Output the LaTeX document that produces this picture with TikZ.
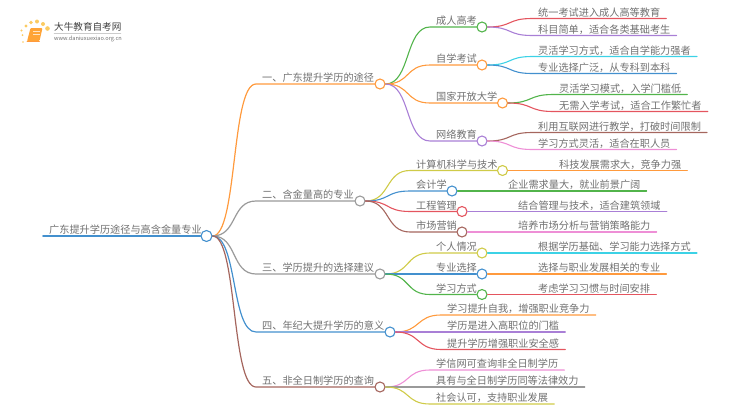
\documentclass[tikz,border=0pt]{standalone}
\usepackage{fontspec}
\setmainfont{Noto Sans CJK SC}
\definecolor{txt}{HTML}{707070}
\definecolor{corange}{HTML}{FF9A3D}
\definecolor{cgreen}{HTML}{52B44B}
\definecolor{cred}{HTML}{E4555F}
\definecolor{cpurple}{HTML}{A97FD6}
\definecolor{ccyan}{HTML}{3CD2E6}
\definecolor{cblue}{HTML}{4390CE}
\definecolor{cyellow}{HTML}{CFCB48}
\definecolor{cbrown}{HTML}{A5665E}
\definecolor{cpink}{HTML}{EE8FD6}
\definecolor{cgray}{HTML}{9A9A9A}
\definecolor{csun}{HTML}{FBCB62}
\begin{document}
\begin{tikzpicture}[x=1pt,y=-1pt,line cap=round,
  label node/.style={inner xsep=6pt,inner ysep=1.2pt,anchor=south west,text=txt,font=\fontsize{10.17pt}{11pt}\selectfont},
  main node/.style={circle,draw,fill=white,minimum size=10pt,inner sep=0pt,line width=1.1pt},
  link/.style={out=0,in=180,distance=25pt},
  leaf/.style={line width=1.1pt}]
\useasboundingbox (0,0) rectangle (750,410);
% logo
\begin{scope}
\foreach \dx/\dy/\r in {22.5/35/1,21.5/30.5/1.2,26/26/1.7,31/22.5/1.9,37/21.5/2,43/24/2,47.5/28.5/2.3,23/42/.8}
  \fill[csun] (\dx,\dy) circle (\r);
\fill[corange!90!yellow,rounded corners=1pt] (30.5,28) -- (42.5,28) -- (39.5,41) -- (27,41.5) -- cycle;
\fill[white,opacity=.7] (33,31) rectangle (40,32);
\fill[white,opacity=.7] (32.5,33.5) rectangle (39.5,34.5);
\draw[corange,line width=.8pt] (27,41.5) -- (39.5,41.5);
\node[font=\fontsize{9.6pt}{10pt}\selectfont,text=black!75,inner sep=0pt,anchor=west] (logotext) at (54,27) {大牛教育自考网};
\node[font=\fontsize{5.6pt}{6pt}\selectfont,text=txt,inner sep=0pt,anchor=west] (logourl) at (54,38.7) {www.daniuxuexiao.org.cn};
\draw[black!20,line width=.4pt] (54,33.5) -- (121,33.5);
\end{scope}
% text
\begin{scope}[every node/.style={label node}]
\node (root) at (43,236) {广东提升学历途径与高含金量专业};
\node (b1) at (256,84) {一、广东提升学历的途径};
\node (b2) at (256,201) {二、含金量高的专业};
\node (b3) at (256,274) {三、学历提升的选择建议};
\node (b4) at (256,332) {四、年纪大提升学历的意义};
\node (b5) at (256,387) {五、非全日制学历的查询};
%
\node (m11) at (430,27) {成人高考};
\node (m12) at (430,65) {自学考试};
\node (m13) at (430,103) {国家开放大学};
\node (m14) at (430,141) {网络教育};
\node (m21) at (410,170.5) {计算机科学与技术};
\node (m22) at (410,191) {会计学};
\node (m23) at (410,211.5) {工程管理};
\node (m24) at (410,232) {市场营销};
\node (m31) at (430,253) {个人情况};
\node (m32) at (430,274) {专业选择};
\node (m33) at (430,294.5) {学习方式};
%
\node (l1) at (532,18.5) {统一考试进入成人高等教育};
\node (l2) at (532,35.5) {科目简单，适合各类基础考生};
\node (l3) at (532,56.5) {灵活学习方式，适合自学能力强者};
\node (l4) at (532,73.5) {专业选择广泛，从专科到本科};
\node (l5) at (553,94.5) {灵活学习模式，入学门槛低};
\node (l6) at (553,111.5) {无需入学考试，适合工作繁忙者};
\node (l7) at (532,132.5) {利用互联网进行教学，打破时间限制};
\node (l8) at (532,149.5) {学习方式灵活，适合在职人员};
\node (l9) at (553,170.5) {科技发展需求大，竞争力强};
\node (l10) at (502,191) {企业需求量大，就业前景广阔};
\node (l11) at (512,211.5) {结合管理与技术，适合建筑领域};
\node (l12) at (512,232) {培养市场分析与营销策略能力};
\node (l13) at (532,253) {根据学历基础、学习能力选择方式};
\node (l14) at (532,274) {选择与职业发展相关的专业};
\node (l15) at (532,294.5) {考虑学习习惯与时间安排};
\node (l16) at (441,315) {学习提升自我，增强职业竞争力};
\node (l17) at (441,332) {学历是进入高职位的门槛};
\node (l18) at (441,349.5) {提升学历增强职业安全感};
\node (l19) at (430,370) {学信网可查询非全日制学历};
\node (l20) at (430,387) {具有与全日制学历同等法律效力};
\node (l21) at (430,404) {社会认可，支持职业发展};
\end{scope}
% circles
\node[main node,draw=cblue,minimum size=11pt] (c0) at (206.5,236) {};
\node[main node,draw=corange] (c1) at (380,84) {};
\node[main node,draw=cgray] (c2) at (360,201) {};
\node[main node,draw=cgray] (c3) at (380,274) {};
\node[main node,draw=cblue] (c4) at (390,332) {};
\node[main node,draw=cbrown] (c5) at (380,387) {};
\node[main node,draw=cgreen] (c11) at (482,27) {};
\node[main node,draw=corange] (c12) at (482,65) {};
\node[main node,draw=corange] (c13) at (502.5,103) {};
\node[main node,draw=cpurple] (c14) at (482,141) {};
\node[main node,draw=cyellow] (c21) at (502.5,170.5) {};
\node[main node,draw=cblue] (c22) at (452,191) {};
\node[main node,draw=cred] (c23) at (462,211.5) {};
\node[main node,draw=cbrown] (c24) at (462,232) {};
\node[main node,draw=cyellow] (c31) at (482,253) {};
\node[main node,draw=cblue] (c32) at (482,274) {};
\node[main node,draw=cgreen] (c33) at (482,294.5) {};
% root and first level
\draw[cblue,line width=1.6pt] (root.south west) -- (c0.west);
\draw[corange,line width=1.2pt] (c0.east) to[link] (b1.south west) -- (c1.west);
\draw[cgray,line width=1.2pt] (c0.east) to[link] (b2.south west) -- (c2.west);
\draw[cgray,line width=1.2pt] (c0.east) to[link] (b3.south west) -- (c3.west);
\draw[cblue,line width=1.2pt] (c0.east) to[link] (b4.south west) -- (c4.west);
\draw[cbrown,line width=1.2pt] (c0.east) to[link] (b5.south west) -- (c5.west);
% second level
\begin{scope}[leaf]
\draw[cgreen] (c1.east) to[link] (m11.south west) -- (c11.west);
\draw[corange] (c1.east) to[link] (m12.south west) -- (c12.west);
\draw[corange] (c1.east) to[link] (m13.south west) -- (c13.west);
\draw[cpurple] (c1.east) to[link] (m14.south west) -- (c14.west);
\draw[cyellow] (c2.east) to[link] (m21.south west) -- (c21.west);
\draw[cblue] (c2.east) to[link] (m22.south west) -- (c22.west);
\draw[cred] (c2.east) to[link] (m23.south west) -- (c23.west);
\draw[cbrown] (c2.east) to[link] (m24.south west) -- (c24.west);
\draw[cyellow] (c3.east) to[link] (m31.south west) -- (c31.west);
\draw[cblue] (c3.east) to[link] (m32.south west) -- (c32.west);
\draw[cgreen] (c3.east) to[link] (m33.south west) -- (c33.west);
% leaves
\draw[cred] (c11.east) to[link] (l1.south west) -- (l1.south east);
\draw[cpurple] (c11.east) to[link] (l2.south west) -- (l2.south east);
\draw[ccyan] (c12.east) to[link] (l3.south west) -- (l3.south east);
\draw[cblue] (c12.east) to[link] (l4.south west) -- (l4.south east);
\draw[cgreen] (c13.east) to[link] (l5.south west) -- (l5.south east);
\draw[cred] (c13.east) to[link] (l6.south west) -- (l6.south east);
\draw[cbrown] (c14.east) to[link] (l7.south west) -- (l7.south east);
\draw[cpink] (c14.east) to[link] (l8.south west) -- (l8.south east);
\draw[corange] (c21.east) -- (l9.south west) -- (l9.south east);
\draw[cgreen] (c22.east) -- (l10.south west) -- (l10.south east);
\draw[cpurple] (c23.east) -- (l11.south west) -- (l11.south east);
\draw[cpink] (c24.east) -- (l12.south west) -- (l12.south east);
\draw[ccyan] (c31.east) -- (l13.south west) -- (l13.south east);
\draw[corange] (c32.east) -- (l14.south west) -- (l14.south east);
\draw[cred] (c33.east) -- (l15.south west) -- (l15.south east);
\draw[corange] (c4.east) to[link] (l16.south west) -- (l16.south east);
\draw[cpurple] (c4.east) to[link] (l17.south west) -- (l17.south east);
\draw[cred] (c4.east) to[link] (l18.south west) -- (l18.south east);
\draw[cpink] (c5.east) to[link] (l19.south west) -- (l19.south east);
\draw[cgray] (c5.east) to[link] (l20.south west) -- (l20.south east);
\draw[cyellow] (c5.east) to[link] (l21.south west) -- (l21.south east);
\end{scope}
\end{tikzpicture}
\end{document}
